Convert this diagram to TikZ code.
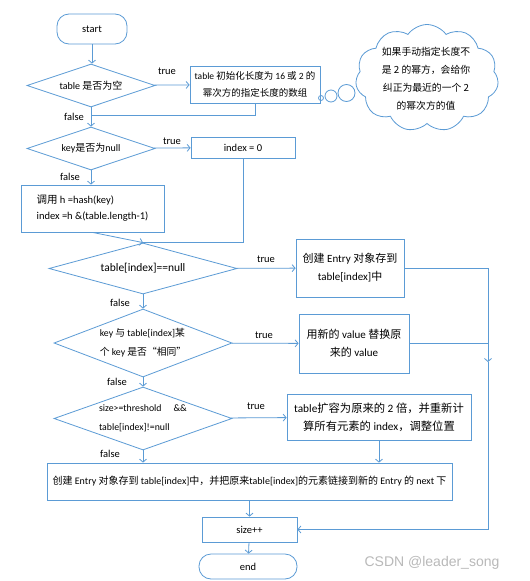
\documentclass[tikz,border=0pt]{standalone}
\usepackage{fontspec}
\setmainfont{Carlito}
\newfontfamily\zhfont{Noto Sans CJK SC}
\newfontfamily\wmfont{Liberation Sans}
\newcommand\zh[1]{{\zhfont #1}}
\usetikzlibrary{shapes.geometric,shapes.symbols,arrows.meta}
\definecolor{lb}{HTML}{5B9BD5}
\begin{document}
\begin{tikzpicture}[x=1pt,y=-1pt,
 line/.style={draw=lb,line width=0.8pt},
 arr/.style={line,-{Straight Barb[length=3pt,width=7pt]}},
 proc/.style={rectangle,line,fill=white,inner sep=1pt,align=center},
 term/.style={proc,rounded corners=12pt},
 dec/.style={diamond,line,fill=white,inner sep=0pt,align=center},
 lab/.style={font=\fontsize{10.5}{12}\selectfont,inner sep=0pt},
]
\useasboundingbox[fill=white] (0,0) rectangle (530,581);

\node[term,minimum width=70pt,minimum height=30pt,font=\fontsize{10.5}{12}\selectfont] (start) at (92,29) {start};
\node[dec,minimum width=128pt,minimum height=43pt,shape aspect=2.98,font=\fontsize{10}{11}\selectfont] (d1) at (91,85.5) {table \zh{是否为空}};
\node[proc,minimum width=130pt,minimum height=37pt,font=\fontsize{9.5}{17}\selectfont] (box1) at (255,84.5) {table \zh{初始化长度为} 16 \zh{或} 2 \zh{的}\\\zh{幂次方的指定长度的数组}};

\node[cloud,cloud puffs=11,cloud puff arc=110,aspect=1.35,line,fill=white,minimum width=143pt,minimum height=107pt] (cl) at (427,78) {};
\node[font=\fontsize{9.8}{18}\selectfont\zhfont,align=center,inner sep=0pt] (clt) at (426,79) {如果手动指定长度不\\是 2 的幂方，会给你\\纠正为最近的一个 2\\的幂次方的值};
\node[circle,line,inner sep=0pt,minimum size=5pt] (b1) at (321,98) {};
\node[circle,line,inner sep=0pt,minimum size=12pt] (b2) at (331,96) {};
\node[circle,line,inner sep=0pt,minimum size=17pt] (b3) at (346.5,93) {};

\node[dec,minimum width=128pt,minimum height=43pt,shape aspect=2.98,font=\fontsize{10}{11}\selectfont] (d2) at (91,148.5) {key\zh{是否为}null};
\node[proc,minimum width=104pt,minimum height=21pt,font=\fontsize{10.5}{12}\selectfont] (idx) at (243,147.5) {index = 0};
\node[proc,minimum width=143pt,minimum height=47pt,align=left,font=\fontsize{10.5}{16}\selectfont] (box3) at (92.5,208.5) {\zh{调用} h =hash(key)\\index =h \&(table.length-1)};

\node[dec,minimum width=188pt,minimum height=51pt,shape aspect=3.69,font=\fontsize{11.5}{12}\selectfont] (d3) at (143,268.5) {table[index]==null};
\node[proc,minimum width=108pt,minimum height=58pt,font=\fontsize{11}{18}\selectfont] (box4) at (350,268) {\zh{创建} Entry \zh{对象存到}\\table[index]\zh{中}};

\node[dec,minimum width=178pt,minimum height=68pt,shape aspect=2.62,align=left,font=\fontsize{9.8}{19}\selectfont] (d4) at (143,343) {key \zh{与} table[index]\zh{某}\\\zh{个} key \zh{是否“相同”}};
\node[proc,minimum width=110pt,minimum height=59pt,font=\fontsize{11}{18}\selectfont] (box5) at (354,343.5) {\zh{用新的} value \zh{替换原}\\\zh{来的} value};

\node[dec,minimum width=178pt,minimum height=63pt,shape aspect=2.83,align=left,font=\fontsize{9.8}{19}\selectfont] (d5) at (143,418.5) {size>=threshold\quad\ \&\&\\table[index]!=null};
\node[proc,minimum width=184pt,minimum height=46pt,font=\fontsize{11.3}{18}\selectfont] (box6) at (379,417) {table\zh{扩容为原来的} 2 \zh{倍，并重新计}\\\zh{算所有元素的} index\zh{，调整位置}};

\node[proc,minimum width=405pt,minimum height=37pt,font=\fontsize{10}{11}\selectfont] (box7) at (249.5,481.5) {\zh{创建} Entry \zh{对象存到} table[index]\zh{中，并把原来}table[index]\zh{的元素链接到新的} Entry \zh{的} next \zh{下}};
\node[proc,minimum width=95pt,minimum height=25pt,font=\fontsize{10.5}{12}\selectfont] (size) at (249.5,529.5) {size++};
\node[term,minimum width=98pt,minimum height=25pt,font=\fontsize{10.5}{12}\selectfont] (end) at (248,566.5) {end};

\node[text=gray!55,font=\fontsize{14}{14}\selectfont\wmfont,inner sep=0pt] (wm) at (432,563) {CSDN @leader\_song};

% labels
\node[lab] (t1) at (167,71) {true};
\node[lab] (f1) at (74,117) {false};
\node[lab] (t2) at (172,141) {true};
\node[lab] (f2) at (70,177) {false};
\node[lab] (t3) at (266,259) {true};
\node[lab] (f3) at (120,303) {false};
\node[lab] (t4) at (264,335) {true};
\node[lab] (f4) at (117,382) {false};
\node[lab] (t5) at (256,406) {true};
\node[lab] (f5) at (110,454) {false};

% connectors
\coordinate (j1) at (91,115);
\coordinate (rx) at (488,362);
\draw[arr] (start) -- (start.south |- d1.north);
\draw[arr] (d1) -- (box1);
\draw[arr] (d1) -- (d2);
\draw[line] (box1.south) |- (j1);
\draw[arr] (d2) -- (idx);
\draw[arr] (d2.south) -- (d2.south |- box3.north);
\draw[arr] (box3.south) -- (d3.north);
\draw[line] (idx.south) |- (d3.north);
\draw[arr] (d3) -- (box4);
\draw[arr] (d3) -- (d4);
\draw[arr] (d4) -- (box5);
\draw[arr] (d4) -- (d5);
\draw[arr] (d5) -- (box6);
\draw[arr] (d5.south) -- (d5.south |- box7.north);
\draw[arr] (box6.south) -- (box6.south |- box7.north);
\draw[arr] (box7) -- (size);
\draw[arr] (size) -- (end);
\draw[arr] (box4.east) -| (rx);
\draw[line] (box5.east) -- (box5.east -| rx);
\draw[arr] (rx) |- (size.east);
\end{tikzpicture}
\end{document}
